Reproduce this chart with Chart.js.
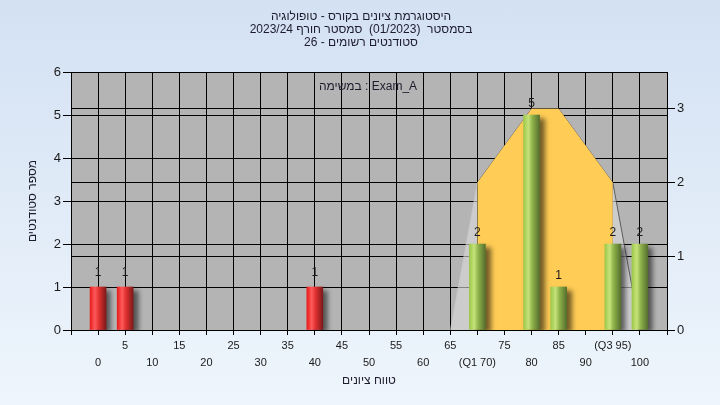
<!DOCTYPE html>
<html><head><meta charset="utf-8">
<script src="https://cdn.jsdelivr.net/npm/chart.js@4.4.0/dist/chart.umd.min.js"></script>
<style>
html,body{margin:0;padding:0;}
body{width:720px;height:405px;background:linear-gradient(#d3e1f3,#eef5fc);overflow:hidden;}
#wrap{position:relative;width:720px;height:405px;}
</style></head><body><div id="wrap"><canvas id="c" width="720" height="405" dir="rtl"></canvas></div>
<script>
const titleLines = ['היסטוגרמת ציונים בקורס - טופולוגיה', 'בסמסטר  (01/2023)  סמסטר חורף 2023/24', 'סטודנטים רשומים - 26'];
const taskLabel = 'Exam_A : במשימה';
const xTitle = 'טווח ציונים';
const yTitle = 'מספר סטודנטים';
const failScores = [0, 5, 40];
const failCounts = [1, 1, 1];
const passScores = [70, 80, 85, 95, 100];
const passCounts = [2, 5, 1, 2, 2];
const curveScores = [65, 70, 80, 85, 95, 100];
const curveValues = [0, 2, 3, 3, 2, 0];
const boxScores = [70, 70, 80, 85, 95, 95];
const boxValues = [0, 2, 3, 3, 2, 0];
const specialTickLabels = {70: '(Q1 70)', 95: '(Q3 95)'};

const FONT = "'Liberation Sans', Arial, sans-serif";

function barGradient(stops, fallback) {
  return (c) => {
    const ch = c.chart;
    if (!ch.chartArea || !c.raw || !ch.scales.x) return fallback;
    const x = ch.scales.x.getPixelForValue(c.raw.x);
    const g = ch.ctx.createLinearGradient(x - 8, 0, x + 8, 0);
    stops.forEach(s => g.addColorStop(s[0], s[1]));
    return g;
  };
}

const redStops = [[0, '#e81c1c'], [0.3, '#ff5a5a'], [0.55, '#e03030'], [1, '#7e1a1a']];
const greenStops = [[0, '#9cc84a'], [0.3, '#c6e27a'], [0.55, '#8fb24a'], [1, '#56702e']];

const plotBg = {
  id: 'plotBg',
  beforeDraw(chart) {
    const {ctx, chartArea: a} = chart;
    ctx.save();
    ctx.fillStyle = '#b4b4b4';
    ctx.fillRect(a.left, a.top, a.right - a.left, a.bottom - a.top);
    ctx.restore();
  }
};

const shadow = {
  id: 'shadow',
  beforeDatasetDraw(chart, args) {
    if (chart.data.datasets[args.index].type !== 'bar') return;
    const ctx = chart.ctx;
    ctx.save();
    ctx.shadowColor = 'rgba(0,0,0,0.55)';
    ctx.shadowOffsetX = 5;
    ctx.shadowOffsetY = 3;
    ctx.shadowBlur = 5;
  },
  afterDatasetDraw(chart, args) {
    if (chart.data.datasets[args.index].type !== 'bar') return;
    chart.ctx.restore();
  }
};

const texts = {
  id: 'texts',
  afterDraw(chart) {
    const ctx = chart.ctx;
    const a = chart.chartArea;
    ctx.save();
    ctx.direction = 'rtl';
    ctx.fillStyle = '#1c1c2c';
    ctx.textAlign = 'center';
    ctx.textBaseline = 'middle';
    ctx.font = '12px ' + FONT;
    titleLines.forEach((t, i) => ctx.fillText(t, 361, 17 + i * 13));
    ctx.fillText(taskLabel, 368, 87);
    ctx.fillText(xTitle, (a.left + a.right) / 2, 381);
    ctx.save();
    ctx.translate(33, 201);
    ctx.rotate(-Math.PI / 2);
    ctx.fillText(yTitle, 0, 0);
    ctx.restore();
    chart.data.datasets.forEach((ds, di) => {
      if (ds.type !== 'bar') return;
      const meta = chart.getDatasetMeta(di);
      meta.data.forEach((el, i) => {
        ctx.fillStyle = '#1a1a1a';
        ctx.font = '12px ' + FONT;
        ctx.fillText(String(ds.data[i].y), el.x, el.y - (ds.labelGap || 12));
      });
    });
    ctx.restore();
  }
};

new Chart(document.getElementById('c'), {
  data: {
    datasets: [
      {
        type: 'line', yAxisID: 'y2', order: 5,
        data: curveScores.map((s, i) => ({x: s, y: curveValues[i]})),
        borderColor: 'rgba(60,60,60,0.75)', borderWidth: 1,
        segment: {borderColor: (c) => c.p0.parsed.x < 70 ? 'rgba(200,200,200,0.5)' : 'rgba(60,60,60,0.75)'},
        backgroundColor: 'rgba(220,220,220,0.6)', fill: 'origin',
        pointRadius: 0, tension: 0
      },
      {
        type: 'line', yAxisID: 'y2', order: 4,
        data: boxScores.map((s, i) => ({x: s, y: boxValues[i]})),
        borderColor: 'rgba(0,0,0,0)', borderWidth: 0,
        backgroundColor: '#ffcc55', fill: 'origin',
        pointRadius: 0, tension: 0
      },
      {
        type: 'bar', yAxisID: 'y', order: 1, labelGap: 14,
        data: failScores.map((s, i) => ({x: s, y: failCounts[i]})),
        backgroundColor: barGradient(redStops, '#e02020'),
        barThickness: 16, grouped: false, borderWidth: 0
      },
      {
        type: 'bar', yAxisID: 'y', order: 0, labelGap: 11,
        data: passScores.map((s, i) => ({x: s, y: passCounts[i]})),
        backgroundColor: barGradient(greenStops, '#90b848'),
        barThickness: 16, grouped: false, borderWidth: 0
      }
    ]
  },
  options: {
    responsive: false,
    animation: false,
    events: [],
    layout: {padding: {top: 72, left: 0, right: 0, bottom: 0}},
    plugins: {legend: {display: false}, title: {display: false}, tooltip: {enabled: false}},
    scales: {
      x: {
        type: 'linear', min: -5, max: 105, offset: false,
        afterFit(s) { s.height = 75; },
        grid: {color: '#000', lineWidth: 1, tickLength: 5, offset: false, tickColor: '#000'},
        border: {color: '#000'},
        ticks: {
          stepSize: 5, autoSkip: false, maxRotation: 0, minRotation: 0, padding: 2,
          color: '#1a1a1a', font: {family: FONT, size: 11, lineHeight: 1.55},
          callback(v) {
            if (v < 0 || v > 100) return '';
            const lab = specialTickLabels[v] || String(v);
            return (v % 10 === 0) ? ['', lab] : lab;
          }
        }
      },
      y: {
        position: 'left', min: 0, max: 6,
        afterFit(s) { s.width = 71; },
        grid: {color: '#000', lineWidth: 1, tickLength: 8, tickColor: '#000'},
        border: {color: '#000'},
        ticks: {stepSize: 1, padding: 2, color: '#1a1a1a', font: {family: FONT, size: 13}}
      },
      y2: {
        position: 'right', min: 0, max: 3.5,
        afterFit(s) { s.width = 53; },
        grid: {color: '#000', lineWidth: 1, tickLength: 8, tickColor: '#000', drawOnChartArea: true},
        border: {color: '#000'},
        ticks: {stepSize: 1, includeBounds: false, padding: 2, color: '#1a1a1a', font: {family: FONT, size: 13}}
      }
    }
  },
  plugins: [plotBg, shadow, texts]
});
</script></body></html>
